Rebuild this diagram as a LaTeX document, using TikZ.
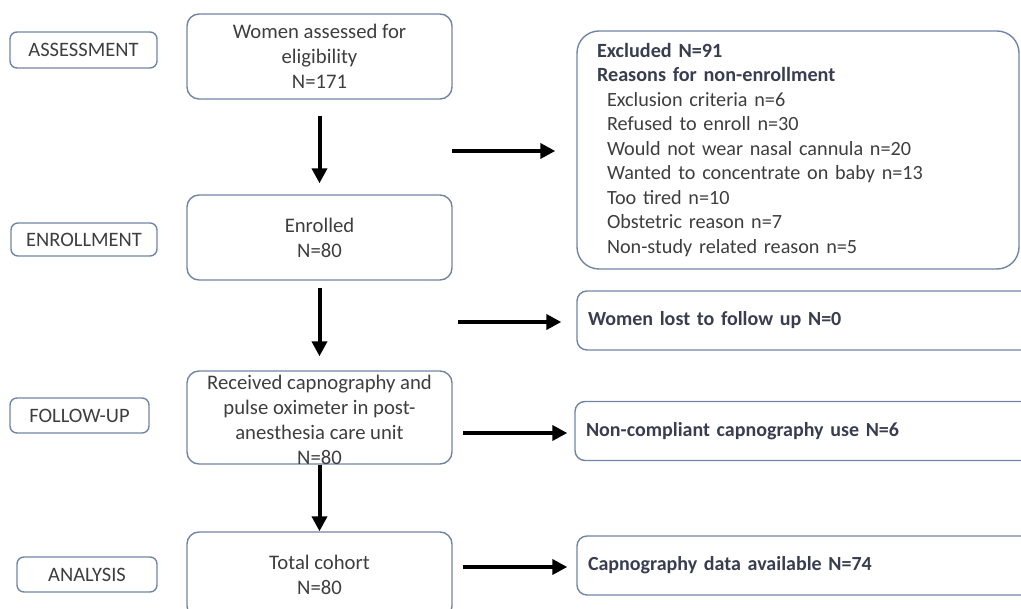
\documentclass[tikz,border=0pt]{standalone}
\usepackage{fontspec}
\setmainfont{Carlito}
\usetikzlibrary{arrows.meta}
\definecolor{bord}{RGB}{112,132,165}
\definecolor{txt}{RGB}{62,62,62}
\definecolor{btxt}{RGB}{56,62,80}
\begin{document}
\begin{tikzpicture}[x=1pt,y=1pt,
  phase/.style={draw=bord, line width=1.4pt, rounded corners=7pt, inner sep=0pt,
    font=\fontsize{20.5}{22}\selectfont, text=txt, minimum height=35pt},
  mainbox/.style={draw=bord, line width=1.4pt, rounded corners=12pt, minimum width=265pt,
    inner sep=0pt, align=center, font=\fontsize{20.7}{25}\selectfont, text=txt},
  mtext/.style={inner sep=0pt, align=center, font=\fontsize{20.7}{25}\selectfont, text=txt},
  sidebox/.style={draw=bord, line width=1.4pt, rounded corners=10pt, inner xsep=11pt,
    inner ysep=0pt, text width=441pt, minimum height=59pt, align=left,
    font=\fontsize{20}{24.5}\selectfont\bfseries, text=btxt},
  exbox/.style={draw=bord, line width=1.4pt, rounded corners=22pt, inner xsep=20pt,
    inner ysep=0pt, text width=402pt, minimum height=238pt, align=left,
    font=\fontsize{20.2}{24.5}\selectfont, text=txt},
  arr/.style={line width=4pt, -{Triangle[length=15pt,width=15pt]}}
]
\useasboundingbox (0,0) rectangle (1021,-609);

% phase labels
\node[phase, minimum width=147pt, minimum height=36pt] (pa) at (83.5,-50) {ASSESSMENT};
\node[phase, minimum width=146pt, minimum height=33pt] (pe) at (84,-239.5) {ENROLLMENT};
\node[phase, minimum width=139pt] (pf) at (79.5,-415.5) {FOLLOW-UP};
\node[phase, minimum width=140pt] (pn) at (87,-574.5) {ANALYSIS};

% main column
\node[mainbox, minimum height=85pt] (wom) at (319.5,-56.5) {Women assessed for\\eligibility\\N=171};
\node[mainbox, minimum height=85pt] (enr) at (319.5,-237.5) {Enrolled\\N=80};
\node[mainbox, minimum height=93pt] (rec) at (319.5,-417.5) {};
\node[mtext] (rect) at (319.5,-420) {Received capnography and\\pulse oximeter in post-\\anesthesia care unit\\N=80};
\node[mainbox, minimum height=86pt] (tot) at (319.5,-575) {Total cohort\\N=80};

% right column
\node[exbox, minimum width=442pt] (exc) at (798,-150) {%
{\bfseries\color{btxt}Excluded N=91}\\
{\bfseries\color{btxt}Reasons for non-enrollment}\\
\hspace*{10pt}Exclusion criteria n=6\\
\hspace*{10pt}Refused to enroll n=30\\
\hspace*{10pt}Would not wear nasal cannula n=20\\
\hspace*{10pt}Wanted to concentrate on baby n=13\\
\hspace*{10pt}Too tired n=10\\
\hspace*{10pt}Obstetric reason n=7\\
\hspace*{10pt}Non-study related reason n=5};
\node[sidebox] (lost) at (808.5,-320.5) {Women lost to follow up N=0};
\node[sidebox, text width=443pt] (nc) at (807.5,-431) {Non-compliant capnography use N=6};
\node[sidebox] (cap) at (808.5,-565.5) {Capnography data available N=74};

% vertical arrows
\draw[arr, shorten <=16pt, shorten >=11pt] (wom) -- (enr);
\draw[arr, shorten <=7pt, shorten >=14pt] (enr) -- (rec);
\draw[arr] (rec) -- (tot);

% horizontal arrows
\coordinate (h1) at (452,-151);
\coordinate (h2) at (458,-322);
\coordinate (h3) at (463,-433);
\coordinate (h4) at (463,-567);
\draw[arr, shorten >=21pt] (h1) -- (h1 -| exc.west);
\draw[arr, shorten >=15pt] (h2) -- (h2 -| lost.west);
\draw[arr, shorten >=7pt] (h3) -- (h3 -| nc.west);
\draw[arr, shorten >=9pt] (h4) -- (h4 -| cap.west);
\end{tikzpicture}
\end{document}
